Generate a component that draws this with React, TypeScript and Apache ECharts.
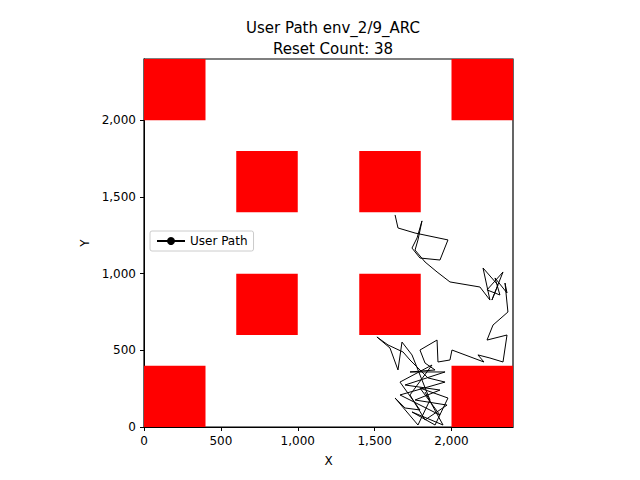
import React, { useEffect, useRef } from "react";
import * as echarts from "echarts";

const obstacles: number[][] = [
  [0, 2000, 400, 2400], [2000, 2000, 2400, 2400],
  [600, 1400, 1000, 1800], [1400, 1400, 1800, 1800],
  [600, 600, 1000, 1000], [1400, 600, 1800, 1000],
  [0, 0, 400, 400], [2000, 0, 2400, 400],
];

const pathX = [1633,1652,1763,1977,1925,1795,1743,1776,1808,1782,1763,1828,1906,1990,2185,2250,2205,2302,2263,2335,2231,2315,2283,2361,2348,2367,2270,2231,2361,2335,2250,2172,2211,2003,1990,1912,1906,1795,1828,1893,
  1730,1958,1698,1925,1763,1971,1828,1730,1873,1665,1795,1698,1633,1782,1860,1743,1678,1652,1600,1515,1587,1685,1730,1847,1958,1665,1925,1795,1977,1893,1743,1945,1828];
const pathY = [1383,1298,1265,1220,1089,1102,1167,1233,1344,1220,1154,1076,1011,946,913,828,1037,926,828,1011,894,861,972,874,939,750,665,567,600,424,450,470,424,502,437,424,567,502,417,372,
  359,359,274,241,176,143,46,209,404,293,111,124,189,13,176,470,554,372,515,587,535,489,437,320,293,209,78,254,189,13,98,13,228];

export default function App() {
  const ref = useRef<HTMLDivElement>(null);
  useEffect(() => {
    const chart = echarts.init(ref.current!, null, { renderer: "svg" });
    const font = "DejaVu Sans";
    chart.setOption({
      animation: false,
      textStyle: { fontFamily: font },
      title: {
        text: "User Path env_2/9_ARC\nReset Count: 38",
        left: 328, top: 12, textAlign: "center",
        textStyle: { fontSize: 15, fontWeight: "normal", color: "#000", lineHeight: 21, fontFamily: font },
      },
      legend: {
        left: 150, top: 231, orient: "vertical",
        borderColor: "#ccc", borderWidth: 1, borderRadius: 2, padding: [4, 6],
        backgroundColor: "#fff", itemWidth: 28, itemHeight: 10,
        textStyle: { fontSize: 12, color: "#000", fontFamily: font },
        data: ["User Path"],
      },
      grid: { left: 144, top: 59, width: 369, height: 368, show: true, borderColor: "#000", borderWidth: 1.2 },
      xAxis: {
        type: "value", min: 0, max: 2400, interval: 500,
        name: "X", nameLocation: "middle", nameGap: 28,
        nameTextStyle: { fontSize: 12, color: "#000", fontFamily: font },
        axisLine: { lineStyle: { color: "#000" } },
        axisTick: { show: true, length: 4, lineStyle: { color: "#000" } },
        axisLabel: { color: "#000", fontSize: 12, showMaxLabel: false, fontFamily: font },
        splitLine: { show: false },
      },
      yAxis: {
        type: "value", min: 0, max: 2400, interval: 500,
        name: "Y", nameLocation: "middle", nameGap: 52,
        nameTextStyle: { fontSize: 12, color: "#000", fontFamily: font },
        axisLine: { show: true, lineStyle: { color: "#000" } },
        axisTick: { show: true, length: 4, lineStyle: { color: "#000" } },
        axisLabel: { color: "#000", fontSize: 12, showMaxLabel: false, fontFamily: font },
        splitLine: { show: false },
      },
      series: [
        {
          type: "custom",
          data: obstacles,
          silent: true,
          renderItem: (_p: any, api: any) => {
            const a = api.coord([api.value(0), api.value(1)]);
            const b = api.coord([api.value(2), api.value(3)]);
            return {
              type: "rect",
              shape: { x: a[0], y: b[1], width: b[0] - a[0], height: a[1] - b[1] },
              style: { fill: "#ff0000" },
            };
          },
          encode: { x: [0, 2], y: [1, 3] },
        },
        {
          name: "User Path",
          type: "line",
          data: pathX.map((x, i) => [x, pathY[i]]),
          symbol: "none",
          lineStyle: { color: "#000", width: 1 },
          itemStyle: { color: "#000" },
          z: 5,
        },
      ],
    });
    return () => chart.dispose();
  }, []);
  return <div ref={ref} style={{ position: "absolute", left: 0, top: 0, width: 640, height: 480 }} />;
}
